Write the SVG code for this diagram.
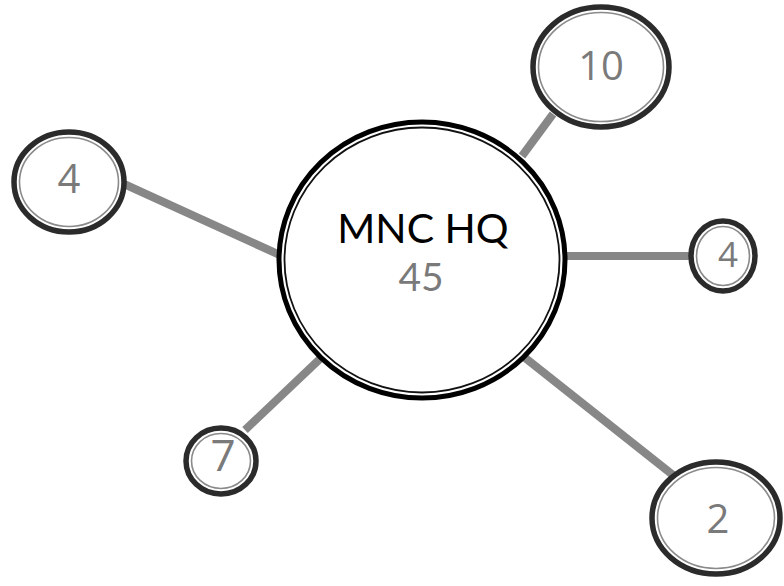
<svg xmlns="http://www.w3.org/2000/svg" width="784" height="586" viewBox="0 0 784 586">
  <style>
    .link { stroke: #878787; stroke-width: 8; stroke-linecap: butt; fill: none; }
    .ring { fill: #ffffff; stroke: #2b2b2b; stroke-width: 5.5; }
    .inner { fill: none; stroke: #8a8a8a; stroke-width: 1.6; }
    .hub-ring { fill: #ffffff; stroke: #000000; stroke-width: 5; }
    .hub-inner { fill: none; stroke: #111111; stroke-width: 1.8; }
    .num { font-family: "Open Sans", "Noto Sans", "DejaVu Sans", sans-serif; fill: #7a7a7a; text-anchor: middle; }
    .hub-text { font-family: Lato, "Open Sans", "DejaVu Sans", sans-serif; text-anchor: middle; }
  </style>

  <rect width="784" height="586" fill="#ffffff"/>

  <!-- spokes from the hub to each satellite -->
  <g id="connectors">
    <line class="link" x1="282" y1="256" x2="124" y2="184"/>
    <line class="link" x1="522" y1="156" x2="553" y2="114"/>
    <line class="link" x1="562" y1="256" x2="694" y2="256"/>
    <line class="link" x1="323" y1="356" x2="245" y2="430"/>
    <line class="link" x1="524" y1="357" x2="678" y2="479"/>
  </g>

  <!-- hub -->
  <g id="hub">
    <ellipse class="hub-ring" cx="422" cy="260" rx="143" ry="138"/>
    <ellipse class="hub-inner" cx="422" cy="260" rx="137.5" ry="132.5"/>
    <text class="hub-text" x="423" y="243" font-size="41" fill="#000000">MNC HQ</text>
    <text class="hub-text" x="421" y="291" font-size="39" fill="#7a7a7a">45</text>
  </g>

  <!-- satellites -->
  <g id="node-10">
    <ellipse class="ring" cx="601" cy="67" rx="68" ry="60"/>
    <ellipse class="inner" cx="601" cy="67" rx="62.5" ry="54.5"/>
    <text class="num" x="601" y="80" font-size="40">10</text>
  </g>

  <g id="node-4-left">
    <ellipse class="ring" cx="69" cy="182" rx="55" ry="50"/>
    <ellipse class="inner" cx="69" cy="182" rx="49.5" ry="44.5"/>
    <text class="num" x="69" y="193" font-size="40">4</text>
  </g>

  <g id="node-4-right">
    <ellipse class="ring" cx="723" cy="256" rx="32" ry="35"/>
    <ellipse class="inner" cx="723" cy="256" rx="26.5" ry="29.5"/>
    <text class="num" x="728" y="267" font-size="35">4</text>
  </g>

  <g id="node-7">
    <ellipse class="ring" cx="221" cy="461" rx="35" ry="33"/>
    <ellipse class="inner" cx="221" cy="461" rx="29.5" ry="27.5"/>
    <text class="num" x="223" y="471" font-size="44">7</text>
  </g>

  <g id="node-2">
    <ellipse class="ring" cx="716" cy="518" rx="64" ry="56"/>
    <ellipse class="inner" cx="716" cy="518" rx="58.5" ry="50.5"/>
    <text class="num" x="718" y="533" font-size="40">2</text>
  </g>
</svg>
